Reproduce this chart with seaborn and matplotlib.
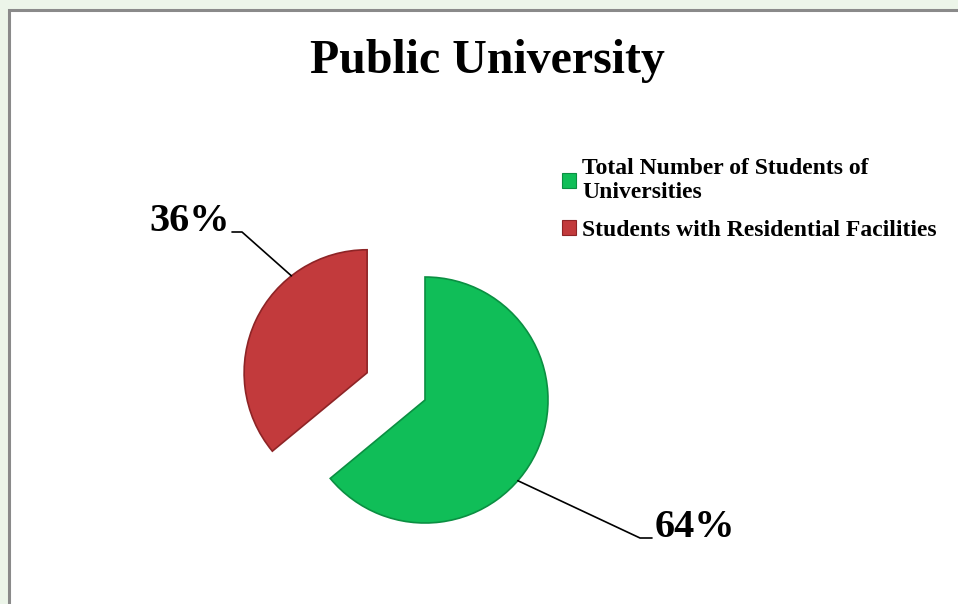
import numpy as np
import matplotlib
matplotlib.use("Agg")
import matplotlib.pyplot as plt
from matplotlib.patches import Rectangle, Patch
import seaborn as sns

# ---- data ----
categories = ["Total Number of Students of\nUniversities",
              "Students with Residential Facilities"]
shares = [64, 36]
pct_labels = ["64%", "36%"]
colors = ["#10BE58", "#C23A3C"]
edge_colors = ["#0B8F42", "#8E2426"]
title = "Public University"

sns.set_theme(style="white")
plt.rcParams["font.family"] = ["Liberation Serif", "DejaVu Serif"]
plt.rcParams["text.color"] = "black"

W, H = 958, 604
fig = plt.figure(figsize=(W / 100, H / 100), dpi=100)
fig.patch.set_facecolor("#ECF5E9")

# white panel with grey border (left/top visible)
panel = Rectangle((9 / W, -0.5), 2.0, 1.5 - 10 / H, transform=fig.transFigure,
                  facecolor="white", edgecolor="#8A8A8A", linewidth=2.2, zorder=-5)
fig.patches.append(panel)

# pie axes: centre at (425, 400) px, radius ~123 px -> 1 data unit
R = 123.0
cx, cy = 425, 400
half = 1.6
size = 2 * half * R
ax = fig.add_axes([(cx - size / 2) / W, (H - cy - size / 2) / H, size / W, size / H])
ax.set_zorder(2)

wedges, _ = ax.pie(shares, colors=colors, startangle=90, counterclock=False,
                   explode=[0, 0.52], radius=1.0,
                   wedgeprops=dict(linewidth=1.2))
for w, ec in zip(wedges, edge_colors):
    w.set_edgecolor(ec)
ax.set_xlim(-half, half)
ax.set_ylim(-half, half)
ax.set_aspect("equal")
ax.axis("off")
ax.patch.set_alpha(0)

# percentage labels with leader lines
def anchor(w, ang_deg):
    c = np.array(w.center)
    a = np.deg2rad(ang_deg)
    return c + w.r * np.array([np.cos(a), np.sin(a)])

# green (64%)
g = anchor(wedges[0], -41)
elbow_g = np.array([(640 - cx) / R, (cy - 538) / R])
end_g = np.array([(652 - cx) / R, (cy - 538) / R])
ax.plot([g[0], elbow_g[0], end_g[0]], [g[1], elbow_g[1], end_g[1]],
        color="black", lw=1.2, clip_on=False)
ax.text(end_g[0] + 0.02, end_g[1] + 0.01, pct_labels[0], ha="left", va="baseline",
        fontsize=29, fontweight="bold", color="black", clip_on=False)

# red (36%)
r = anchor(wedges[1], 128)
elbow_r = np.array([(242 - cx) / R, (cy - 232) / R])
end_r = np.array([(232 - cx) / R, (cy - 232) / R])
ax.plot([r[0], elbow_r[0], end_r[0]], [r[1], elbow_r[1], end_r[1]],
        color="black", lw=1.2, clip_on=False)
ax.text(end_r[0] - 0.02, end_r[1] + 0.01, pct_labels[1], ha="right", va="baseline",
        fontsize=29, fontweight="bold", color="black", clip_on=False)

# title
fig.text(487 / W, 1 - 61 / H, title, ha="center", va="center",
         fontsize=34.5, fontweight="bold", color="black")

# legend
handles = [Patch(facecolor=c, edgecolor=e, linewidth=0.8) for c, e in zip(colors, edge_colors)]
leg = fig.legend(handles, categories, loc="upper left",
                 bbox_to_anchor=(562 / W, 1 - 158 / H), frameon=False,
                 prop=dict(family=["Liberation Serif"], weight="bold", size=17),
                 handlelength=0.6, handleheight=0.6, handletextpad=0.25,
                 labelspacing=0.72, borderpad=0.0, borderaxespad=0.0)
for t in leg.get_texts():
    t.set_color("black")

fig.savefig("out.png", dpi=100, facecolor=fig.get_facecolor())
